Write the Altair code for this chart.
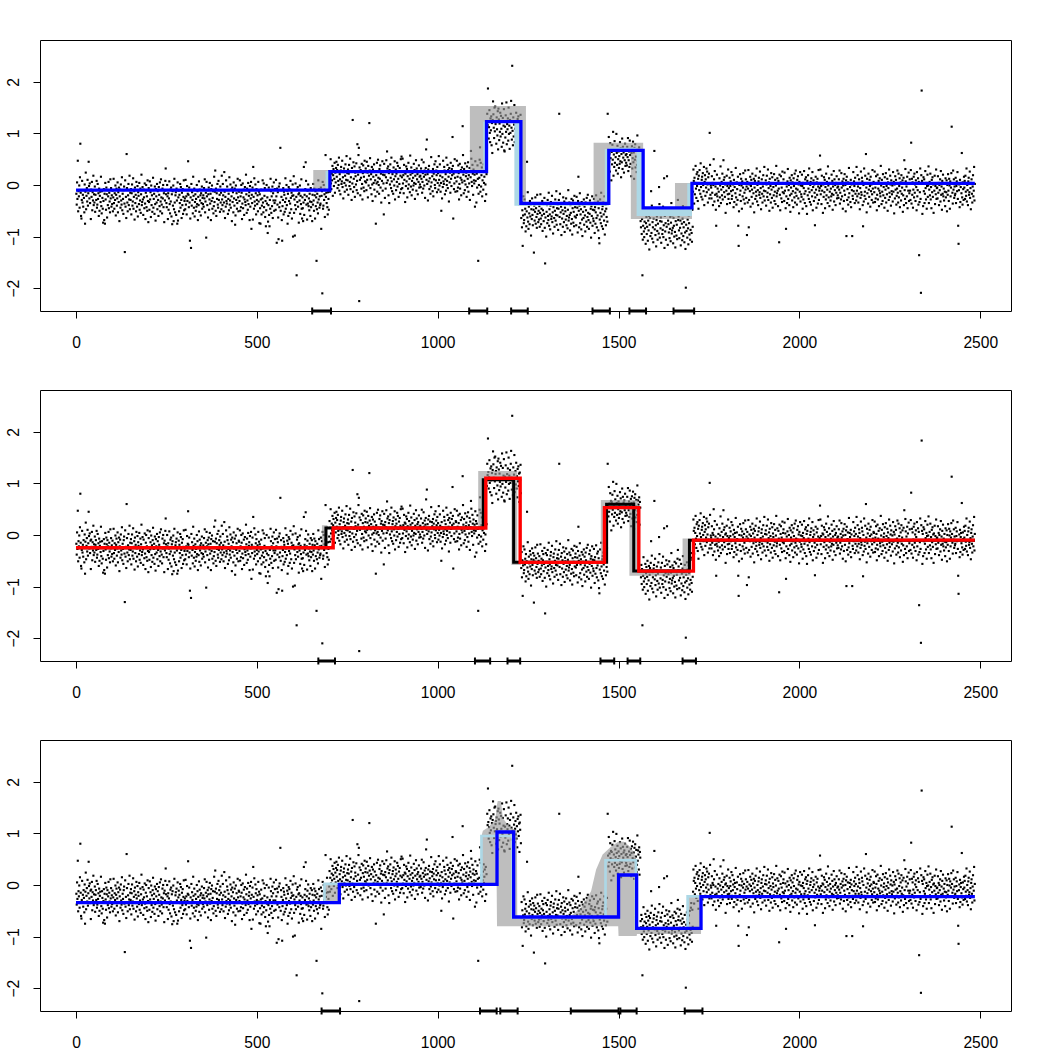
import altair as alt
import numpy as np
import pandas as pd

# Observed series, in hundredths, stretch by stretch (index 1..2485)
seg_a = [
    -17,-38,5,-27,47,-51,-12,-22,-1,-44,15,80,-15,-60,-65,-29,8,-34,-19,-42,-10,-25,-53,1,-75,-13,24,-47,-21,-6,-32,10,-40,-16,45,-2,-26,3,-35,-11,-66,-9,-23,6,-49,-14,-30,18,-39,-18,
    -34,-3,-52,-19,-10,-29,8,-44,-38,2,-27,-16,-60,-7,-50,-21,-13,-33,16,-41,-55,-12,-25,-46,-73,-31,-8,-68,-17,-75,4,-28,-48,-5,-18,-63,-10,-39,-22,6,-45,-15,-32,-53,11,-26,-6,-42,-20,-37,
    -11,-51,-24,12,-35,-46,-16,-29,-1,-59,-19,-7,-40,-26,5,-53,-14,-33,-5,-70,-22,-9,-44,1,-30,-38,15,-49,-17,-27,-56,-10,-3,-36,-130,9,-42,-23,-64,60,-6,-34,-51,-20,2,-39,-28,18,-47,-15,
    -29,-8,-57,-16,1,-40,-32,13,-46,-23,-12,-67,-5,-35,-19,-51,6,-26,-42,-2,-61,-14,-21,-37,4,-48,-30,-7,-54,-18,20,-39,-33,-4,-28,-58,-9,-24,-45,3,-36,-66,-15,0,-43,-22,-50,9,-31,-72,
    -6,-33,-48,7,-28,-14,-62,-1,-39,-20,-52,-10,14,-44,-27,-17,-56,-3,-37,-69,-8,-22,-34,2,-47,-12,-29,-60,-4,-19,-41,5,-51,-32,11,-24,-38,-55,-7,-26,0,-43,-16,-72,-11,-30,8,32,-18,-35,
    -43,0,-22,-66,-16,-48,-26,7,-37,-55,-9,-32,-5,-61,-18,-76,-12,-40,-1,-70,-47,12,-34,-53,-20,-14,-58,-7,-30,-75,5,-69,-24,-11,-51,-19,-35,2,-44,-4,-29,-64,-15,-39,-8,-56,-23,9,-49,-31,
    -26,-47,10,-38,-22,-57,-2,-31,-17,46,-19,-43,-5,-34,-108,-65,-24,-122,2,-40,-14,-29,-55,16,-21,-44,-7,-61,-33,-18,-50,-27,-42,0,-37,-12,-68,-23,-39,7,-52,-9,-30,-20,-59,-16,-35,-3,-46,-25,
    -37,-20,-42,-6,-26,11,-53,-32,-15,-102,6,-22,-39,-10,-63,-18,-5,-48,-28,4,-36,-17,-68,-8,-31,-1,-46,-25,-12,-55,-41,16,-33,-13,28,-50,-7,-60,-16,-27,2,-38,-44,8,-29,-10,-19,-52,-3,-34,
    -15,-47,18,-28,-39,2,-20,-51,-34,25,-13,-64,-23,-42,9,-31,-36,-3,-10,-56,-27,-17,-49,15,-38,-30,1,-44,-9,-22,-70,-5,-33,-14,-53,5,-26,-40,-7,-77,-59,-1,-29,-16,-46,-35,12,-24,-51,-11,
    -13,-31,9,-50,-22,-43,0,-15,-66,-36,3,-45,-24,-9,-58,-28,-4,-33,-39,20,-18,-54,-7,-30,-48,4,-37,-21,-14,-68,-2,-42,-26,6,-85,-19,-35,-5,-67,35,-23,-46,13,-32,-40,1,-16,-57,-8,-29,
    -37,-20,-51,6,-32,-13,-74,-18,-45,-75,-28,-9,-57,-40,-26,9,-34,-53,3,-43,-21,-6,-62,-31,-80,-49,0,-36,-24,-93,-71,-39,-5,-58,-80,-29,-46,12,-12,-54,-22,-41,-3,-64,-16,-30,5,-50,-35,-8,
    -30,-48,10,-22,-112,-7,-38,-14,-63,-105,-3,-43,3,-34,72,-50,-10,-23,-68,-108,-41,-29,-6,-57,-13,-19,-52,-33,13,-46,-26,0,-39,-11,-75,-17,-60,-4,-31,-8,-54,-36,8,-25,-47,-15,-65,-21,1,-100,
    -20,17,-54,-28,-98,-39,3,-47,-23,-175,-9,-33,-4,-42,-18,-73,-16,-30,-1,-56,-21,-37,11,-46,-65,-24,-45,-70,-34,35,-58,-19,-29,-8,44,8,-38,-22,-67,-11,-36,1,-41,-26,-49,-17,-32,-60,-6,-43,
    -33,-10,-70,-19,-38,2,-30,-50,-7,-20,-65,-12,-41,-24,-147,-47,-17,-34,-55,9,-28,-8,-44,-22,-39,-36,-5,-85,-21,-12,-210,6,-46,-40,0,-29,-18,-62,-9,58,-23,-15,-35,14,-43,-57,-14,-27,-48,-3,
]
seg_b = [
    27,-13,14,50,3,-8,22,9,37,-21,19,31,-2,12,43,-15,24,5,33,45,16,29,-6,39,8,0,53,-11,21,11,-18,28,35,2,7,47,-4,15,-26,25,32,4,-13,18,40,-1,10,56,-9,23,
    9,30,-19,22,39,-2,6,51,-8,15,26,-29,33,3,126,-13,44,12,-4,36,-23,24,17,1,42,-10,8,79,-16,20,58,72,-225,34,10,-20,29,14,-7,41,2,-28,23,38,-5,16,-12,47,7,25,
    32,5,-10,45,10,24,-24,37,-1,18,120,28,52,-6,11,21,-18,35,1,-31,30,16,4,40,-9,26,9,-22,-75,19,3,43,-13,6,49,14,0,-17,31,12,38,-5,22,-34,27,8,46,-11,20,3,
    -57,41,19,-25,25,-7,15,48,4,65,32,9,36,-20,23,-35,29,1,40,14,-6,53,7,-12,21,27,-17,34,11,-1,46,-28,17,30,-10,22,6,43,-3,37,12,-23,26,2,33,-15,18,50,-8,55,
    15,-6,51,3,19,-16,39,10,24,-33,22,-2,36,7,31,-24,17,-7,43,1,27,12,-14,57,20,-3,34,-20,8,23,-9,14,-1,41,4,29,-27,18,2,48,-11,32,11,21,-18,25,6,38,-5,16,
    1,18,-4,32,12,49,-15,6,23,-7,44,16,-1,28,-25,20,33,69,10,88,2,21,-30,30,7,37,-8,13,26,-17,-3,54,5,25,17,-12,31,-22,22,11,40,0,-6,46,9,28,19,-14,35,4,
    23,-9,56,10,-1,40,18,-13,4,-50,25,-26,15,-4,47,7,2,35,28,-18,11,21,-11,53,0,8,39,-6,29,16,-32,33,5,24,-15,43,12,-2,31,19,93,37,-65,22,-8,3,50,14,-13,27,
    25,7,47,-12,16,-5,38,23,-28,2,41,-7,14,29,-20,10,34,5,114,58,20,-16,31,8,-10,42,1,17,24,-23,36,-4,12,44,-13,19,3,33,-29,26,15,66,51,6,-2,39,22,-19,30,9,
    3,20,-42,46,8,27,-34,22,-5,38,12,-147,-17,0,14,49,73,-13,43,-3,19,34,-22,9,26,-9,40,4,16,30,-31,1,35,-18,21,
]
seg_c = [
    95,138,116,187,122,90,112,145,101,83,129,106,133,77,120,62,126,162,137,111,91,150,104,152,118,124,80,131,108,96,143,69,148,127,87,119,103,140,94,134,109,74,158,99,130,82,115,147,67,65,
    113,92,135,103,160,79,118,108,129,86,150,99,115,70,126,101,138,163,111,88,231,105,77,131,94,117,155,83,109,124,98,140,90,114,73,128,104,133,95,119,64,121,107,136,81,
]
seg_d = [
    -64,-33,-82,-49,-118,-59,-22,-74,-68,-28,-57,-46,-90,-37,-80,-51,45,-63,-14,-71,-85,-42,-55,-76,-31,-61,-38,-98,-47,-66,-26,-58,-78,-35,-48,-131,-40,-69,-52,-24,-75,-45,-62,-83,-19,-56,-36,-72,-50,-67,
    -41,-81,-54,-18,-65,-76,-46,-59,-31,-89,-49,-37,-70,-56,-25,-83,-152,-63,-35,-100,-52,-39,-74,-29,-60,-68,-15,-79,-47,-57,-86,-40,-33,-66,-61,-21,-72,-53,-94,-43,-36,-64,-81,-50,-28,-69,-58,-12,-77,-45,
    -59,-38,-87,-46,-29,138,-62,-17,-76,-53,-42,-97,-35,-65,-49,-81,-24,-56,-72,-32,-91,-44,-51,-67,-26,-78,-60,-37,-84,-48,-10,-69,-63,-34,-58,-88,-39,-54,-75,-27,-66,-96,-45,-30,-73,-52,-80,-21,-61,-43,
    -36,-63,-78,-23,-58,-44,-92,-31,16,-50,-82,-40,-16,-74,-57,-47,-86,-33,-67,-99,-38,-52,-64,-28,-77,-42,-59,-90,-34,-49,-71,-25,-81,-62,-19,-54,-68,-85,-37,-56,-30,-73,-46,-102,-41,-60,-22,-79,-48,-65,
    -70,-27,-49,-93,-43,-75,-53,-20,-64,-82,-36,-59,-32,-88,-45,-103,-113,-67,-28,-54,-74,-15,-61,-80,-47,-41,-85,-34,-57,-69,-22,-96,-51,-38,-78,-46,-62,-25,-71,138,
]
seg_e = [
    57,36,93,45,61,26,81,52,66,9,64,40,78,49,103,18,59,35,85,43,69,54,28,99,62,39,76,22,50,65,33,56,41,83,46,71,15,60,44,90,31,74,53,63,24,67,48,80,37,58,
    43,60,38,74,54,91,27,48,65,35,86,58,41,70,17,62,75,32,52,84,44,63,12,72,49,79,34,55,68,25,39,96,47,67,59,30,73,20,64,53,-70,-82,-58,-95,-66,
]
seg_f = [
    -175,-106,-79,-43,-90,-101,-71,-84,-56,-114,-74,-62,-95,-81,-50,-108,-69,-88,-60,-125,-77,-64,-99,-54,-12,-93,-40,-104,-72,-82,-111,-65,-58,66,-86,-46,-97,-78,-119,-68,-61,-89,-106,-75,-53,-94,-4,-37,-102,-70,
    -84,-63,-112,-71,-54,-95,-87,-42,-101,-78,13,-122,-60,-90,-74,-106,-49,-81,17,-57,-116,-69,-76,-92,-51,-103,-85,-62,-109,-73,-35,-94,-88,-59,-83,-113,-64,-79,-100,-52,-91,-121,-70,-55,-98,-77,-105,-46,-29,-68,
    -61,-88,-103,-48,-83,-69,-117,-56,-94,-75,-107,-65,-41,-99,-82,-72,-111,-58,-92,-124,-199,-77,-89,-53,-102,-67,-84,-115,-59,-74,-96,-50,-106,-87,-44,-35,-93,-110,-48,-81,
]
seg_g = [
    -13,30,8,-36,14,-18,4,37,-7,-25,21,-2,25,-31,12,-46,18,-10,29,3,-17,42,-4,-23,10,16,-28,23,0,-12,35,-39,6,19,-21,11,-5,32,-14,26,1,-34,15,-9,22,-26,101,39,-19,-1,
    -5,-26,17,-15,4,-39,0,50,11,-32,27,-19,-3,-48,-79,-17,20,-22,-7,-30,2,-13,-41,13,-24,-1,36,-35,-9,6,-20,22,-28,-4,48,10,-14,15,-23,1,-54,3,-11,18,-37,-2,-18,30,-27,-6,
    -17,14,-35,-2,7,-12,25,-27,-21,19,-10,1,-43,10,-33,-4,4,-16,33,-24,-38,5,-8,-29,16,-79,-118,-51,0,-19,21,-11,-31,12,-1,-46,7,-22,-5,23,-28,2,-15,-36,28,-9,11,-25,-3,-97,
    6,-34,-7,29,-82,-29,1,-12,16,-42,-2,10,-23,-9,22,-36,3,-16,12,-53,-5,8,-27,18,-13,-21,32,-32,0,-10,-39,7,14,-19,-14,26,-25,-6,-47,4,11,-17,-34,-3,19,-22,-11,35,-30,2,
    -12,9,-40,1,18,-23,-15,30,-29,-6,5,-50,12,-18,-2,-34,23,-9,-25,15,-44,3,-4,-20,21,-31,-13,10,-37,-1,37,-22,-16,13,-11,-41,8,-7,-111,20,-19,-49,2,17,-26,-5,-33,26,-14,4,
    11,-16,-31,24,-11,3,-45,-85,-22,-3,-35,7,31,-27,-10,0,-39,14,-20,-52,9,-5,-17,19,-30,5,-12,-43,13,-2,-24,22,-34,-15,28,-7,-21,-38,10,-9,17,-26,1,-55,6,-13,25,-32,-1,-18,
    -23,20,-2,-46,4,-28,-6,27,-17,-35,11,-12,15,-41,2,-56,8,-20,19,-7,-27,32,-14,-33,0,6,-38,13,-10,-22,25,-49,-4,9,-31,1,-15,-78,-24,16,-9,-44,5,-19,12,-36,-3,29,-29,-11,
    -6,57,30,-18,-2,-37,18,-11,3,-54,1,-23,15,-14,10,-45,-4,-28,22,-20,6,-9,-35,36,-1,-24,13,-41,-13,2,-30,-7,-22,20,-17,8,-48,-3,-19,27,-32,11,-10,0,-39,4,-15,17,-26,-5,
    -20,-3,-25,11,-9,28,-36,-15,2,-28,23,-5,-22,7,-46,-1,12,-31,-11,21,-19,0,-51,9,-99,16,-29,-8,5,-38,-24,33,-16,4,-4,-33,10,-43,1,-10,-99,-21,-27,25,-12,7,-2,-35,14,-17,
    2,-30,35,-11,-22,19,-3,-34,-17,11,4,-47,-6,-25,26,-14,-19,14,7,-39,-80,0,-32,32,-21,-13,18,-27,60,-5,-53,12,-16,3,-36,22,-9,-23,10,-2,-42,16,-12,1,-29,-18,29,-7,-34,6,
    4,-14,26,-33,-5,-26,17,2,-49,-19,20,-28,-7,8,-41,-11,13,-16,-22,37,-1,-37,10,-13,-31,21,-20,-4,3,-44,15,-25,-9,23,-34,-2,-18,12,-50,5,-6,-29,30,-15,-23,18,1,-40,9,-12,
    -18,-1,-32,25,-13,6,-55,1,-26,17,-9,10,-38,-21,-7,28,-15,-34,22,-24,-2,13,-43,-12,5,-30,19,-17,-5,9,-52,-20,14,-39,48,-10,-27,31,7,-35,-3,-22,16,-45,3,-11,24,-31,-16,11,
    -11,-29,29,82,-36,12,-19,5,-44,-9,16,-24,22,-15,1,-31,9,-4,-49,25,-22,-10,13,-38,6,-136,-33,-14,32,-27,-209,19,183,8,-56,2,-41,15,-12,11,-35,-17,27,-6,-28,4,-46,-2,20,-23,
    -1,36,-35,-9,6,-20,22,-28,-4,-45,10,-14,15,-23,1,-54,3,-11,18,-37,-2,-18,30,-27,-6,-5,-26,17,-15,4,-39,0,-10,11,-32,27,-19,-3,-48,8,-17,20,-22,-7,-30,2,-13,-41,13,-24,
    -14,9,-51,0,-19,21,-11,-31,12,-1,-46,7,-22,-5,23,113,2,-15,-36,28,-9,11,-25,-3,-20,-17,14,-35,-2,7,-12,25,-27,-79,-114,-10,1,-43,10,-33,-4,4,-16,62,-24,-38,5,-8,-29,16,
    -5,8,-27,18,-13,-21,32,-32,0,-10,-39,7,14,-19,-14,26,-25,-6,-47,4,11,-17,-34,-3,19,-22,-11,35,-30,2,
]

# Panel 1: blue fit, grey and light-blue bands, change-point intervals
fit1_t = [0, 702, 1135, 1230, 1473, 1568, 1703, 2485]
fit1_y = [-0.10, 0.26, 1.23, -0.355, 0.67, -0.445, 0.03, 0.03]
band1_t = [656, 702, 1089, 1135, 1222, 1244, 1431, 1473, 1534, 1568, 1656, 1703]
band1_lo = [-0.10, 0.26, 0.26, 1.23, -0.40, -0.355, -0.355, 0.67, -0.66, -0.66, -0.66, 0.03]
band1_hi = [0.29, 0.26, 1.53, 1.53, 1.53, -0.355, 0.82, 0.82, 0.82, -0.445, 0.04, 0.03]
inner1_t = [690, 702, 1126, 1135, 1212, 1230, 1462, 1473, 1550, 1568, 1690, 1703]
inner1_lo = [-0.10, 0.26, 0.26, 1.23, -0.40, -0.40, -0.40, 0.67, -0.60, -0.60, -0.60, 0.03]
inner1_hi = [0.27, 0.26, 1.23, 1.23, 1.23, -0.355, 0.70, 0.72, 0.70, -0.445, 0.03, 0.03]
ci1 = [(653, 705), (1087, 1137), (1203, 1249), (1428, 1476), (1530, 1576), (1652, 1709)]

# Panel 2: red and black fits, grey band, intervals
fit2_t = [0, 711, 1133, 1228, 1461, 1556, 1707, 2485]
fit2_y = [-0.246, 0.136, 1.10, -0.53, 0.53, -0.70, -0.10, -0.10]
alt2_t = [0, 691, 1126, 1210, 1467, 1542, 1696, 2485]
alt2_y = [-0.246, 0.136, 1.07, -0.53, 0.595, -0.70, -0.10, -0.10]
band2_t = [680, 695, 1112, 1130, 1204, 1220, 1230, 1451, 1470, 1530, 1553, 1677, 1700]
band2_lo = [-0.25, 0.136, 0.136, 1.04, -0.58, -0.58, -0.53, -0.55, 0.50, -0.79, -0.79, -0.79, -0.10]
band2_hi = [0.19, 0.136, 1.24, 1.24, 1.24, -0.50, -0.53, 0.68, 0.68, 0.68, -0.66, -0.07, -0.10]
ci2 = [(670, 716), (1103, 1145), (1193, 1228), (1450, 1488), (1525, 1560), (1677, 1714)]

# Panel 3: blue and light-blue fits, grey band, intervals
fit3_t = [0, 728, 1164, 1210, 1500, 1550, 1728, 2485]
fit3_y = [-0.343, 0.013, 1.027, -0.62, 0.194, -0.84, -0.225, -0.225]
alt3_t = [0, 687, 1121, 1207, 1464, 1548, 1691, 2485]
alt3_y = [-0.343, 0.02, 0.95, -0.63, 0.48, -0.84, -0.22, -0.22]
band3_t = [685, 728, 729, 1120, 1121, 1125, 1140, 1150, 1158, 1162, 1163, 1164, 1166, 1175, 1180,
           1190, 1205, 1219, 1220, 1368, 1396, 1424, 1438, 1456, 1479, 1499, 1500, 1515, 1530,
           1540, 1548, 1550, 1551, 1691, 1692, 1728, 1729]
band3_lo = [-0.343, -0.343, 0.013, 0.013, 0.013, 0.013, 0.013, 0.013, 0.013, 0.013, 0.013, -0.80, -0.80, -0.80, -0.80,
            -0.80, -0.80, -0.80, -0.80, -0.80, -0.80, -0.80, -0.80, -0.80, -0.80, -0.80, -0.99, -0.99, -0.99,
            -0.99, -0.99, -0.99, -0.95, -0.95, -0.95, -0.95, -0.225]
band3_hi = [0.02, 0.02, 0.013, 0.013, 0.95, 1.05, 1.12, 1.20, 1.25, 1.40, 1.50, 1.56, 1.63, 1.63, 1.30,
            1.20, 1.10, 1.05, -0.62, -0.60, -0.44, -0.12, 0.30, 0.59, 0.74, 0.84, 0.84, 0.84, 0.75,
            0.66, 0.53, 0.45, -0.84, -0.84, -0.22, -0.22, -0.225]
ci3 = [(679, 730), (1117, 1163), (1173, 1221), (1368, 1500), (1505, 1550), (1683, 1732)]

X_TICKS = [0, 500, 1000, 1500, 2000, 2500]
Y_TICKS = [-2, -1, 0, 1, 2]

W, H = 971, 271
FONT = "Liberation Sans"
X_SCALE = alt.Scale(domain=[-99.5, 2585], nice=False, zero=False)
Y_SCALE = alt.Scale(domain=[-2.442, 2.81], nice=False, zero=False)
X_AXIS = alt.Axis(values=X_TICKS, format="d", title=None, grid=False, domain=False,
                  tickSize=7, tickColor="black", tickWidth=1, labelPadding=17,
                  labelFont=FONT, labelFontSize=15.6, labelColor="black",
                  labelFlush=False, labelOverlap=False)
Y_AXIS = alt.Axis(values=Y_TICKS, format="d", title=None, grid=False, domain=False,
                  tickSize=7, tickColor="black", tickWidth=1, labelPadding=15,
                  labelAngle=270, labelAlign="center", labelBaseline="alphabetic",
                  labelFont=FONT, labelFontSize=15.6, labelColor="black",
                  labelFlush=False, labelOverlap=False)

values = np.array(seg_a + seg_b + seg_c + seg_d + seg_e + seg_f + seg_g, dtype=float) / 100.0
obs = pd.DataFrame({"t": np.arange(1, len(values) + 1), "y": values})


def xq(field="t"):
    return alt.X(f"{field}:Q", scale=X_SCALE, axis=X_AXIS)


def yq(field="y"):
    return alt.Y(f"{field}:Q", scale=Y_SCALE, axis=Y_AXIS)


def points():
    return alt.Chart(obs).mark_square(size=4.5, color="black", opacity=1).encode(x=xq(), y=yq())


def step(ts, ys, color, width):
    df = pd.DataFrame({"t": ts, "y": ys})
    return alt.Chart(df).mark_line(interpolate="step-after", color=color, strokeWidth=width).encode(
        x=xq(), y=yq())


def band(ts, lo, hi, color, opacity, interp):
    df = pd.DataFrame({"t": ts, "lo": lo, "hi": hi})
    return alt.Chart(df).mark_area(interpolate=interp, color=color, opacity=opacity).encode(
        x=xq(), y=yq("lo"), y2="hi:Q")


def intervals(pairs):
    seg = pd.DataFrame({"a": [p[0] for p in pairs], "b": [p[1] for p in pairs]})
    ends = pd.DataFrame({"t": [v for p in pairs for v in p]})
    bars = alt.Chart(seg).mark_rule(color="black", strokeWidth=3).encode(
        x=xq("a"), x2="b:Q", y=alt.value(H))
    caps = alt.Chart(ends).mark_rule(color="black", strokeWidth=2).encode(
        x=xq(), y=alt.value(H - 3.5), y2=alt.value(H + 3.5))
    return [bars, caps]


GREY = "#999999"
GREY_OP = 0.64

p1 = alt.layer(
    points(),
    band(band1_t, band1_lo, band1_hi, GREY, GREY_OP, "step-after"),
    band(inner1_t, inner1_lo, inner1_hi, "#add8e6", 1, "step-after"),
    step(fit1_t, fit1_y, "#0000ff", 3.3),
    *intervals(ci1),
).properties(width=W, height=H)

p2 = alt.layer(
    points(),
    band(band2_t, band2_lo, band2_hi, GREY, GREY_OP, "step-after"),
    step(alt2_t, alt2_y, "black", 3),
    step(fit2_t, fit2_y, "#ff0000", 3.4),
    *intervals(ci2),
).properties(width=W, height=H)

p3 = alt.layer(
    points(),
    band(band3_t, band3_lo, band3_hi, GREY, GREY_OP, "linear"),
    step(alt3_t, alt3_y, "#add8e6", 2.7),
    step(fit3_t, fit3_y, "#0000ff", 3.3),
    *intervals(ci3),
).properties(width=W, height=H)

chart = alt.vconcat(p1, p2, p3, spacing=79, bounds="flush").properties(
    padding={"left": 5, "top": 39, "right": 0, "bottom": 0},
    background="white",
).configure_view(stroke="black", strokeWidth=1)

chart.save("out.html", embed_options={"renderer": "svg", "actions": False})
